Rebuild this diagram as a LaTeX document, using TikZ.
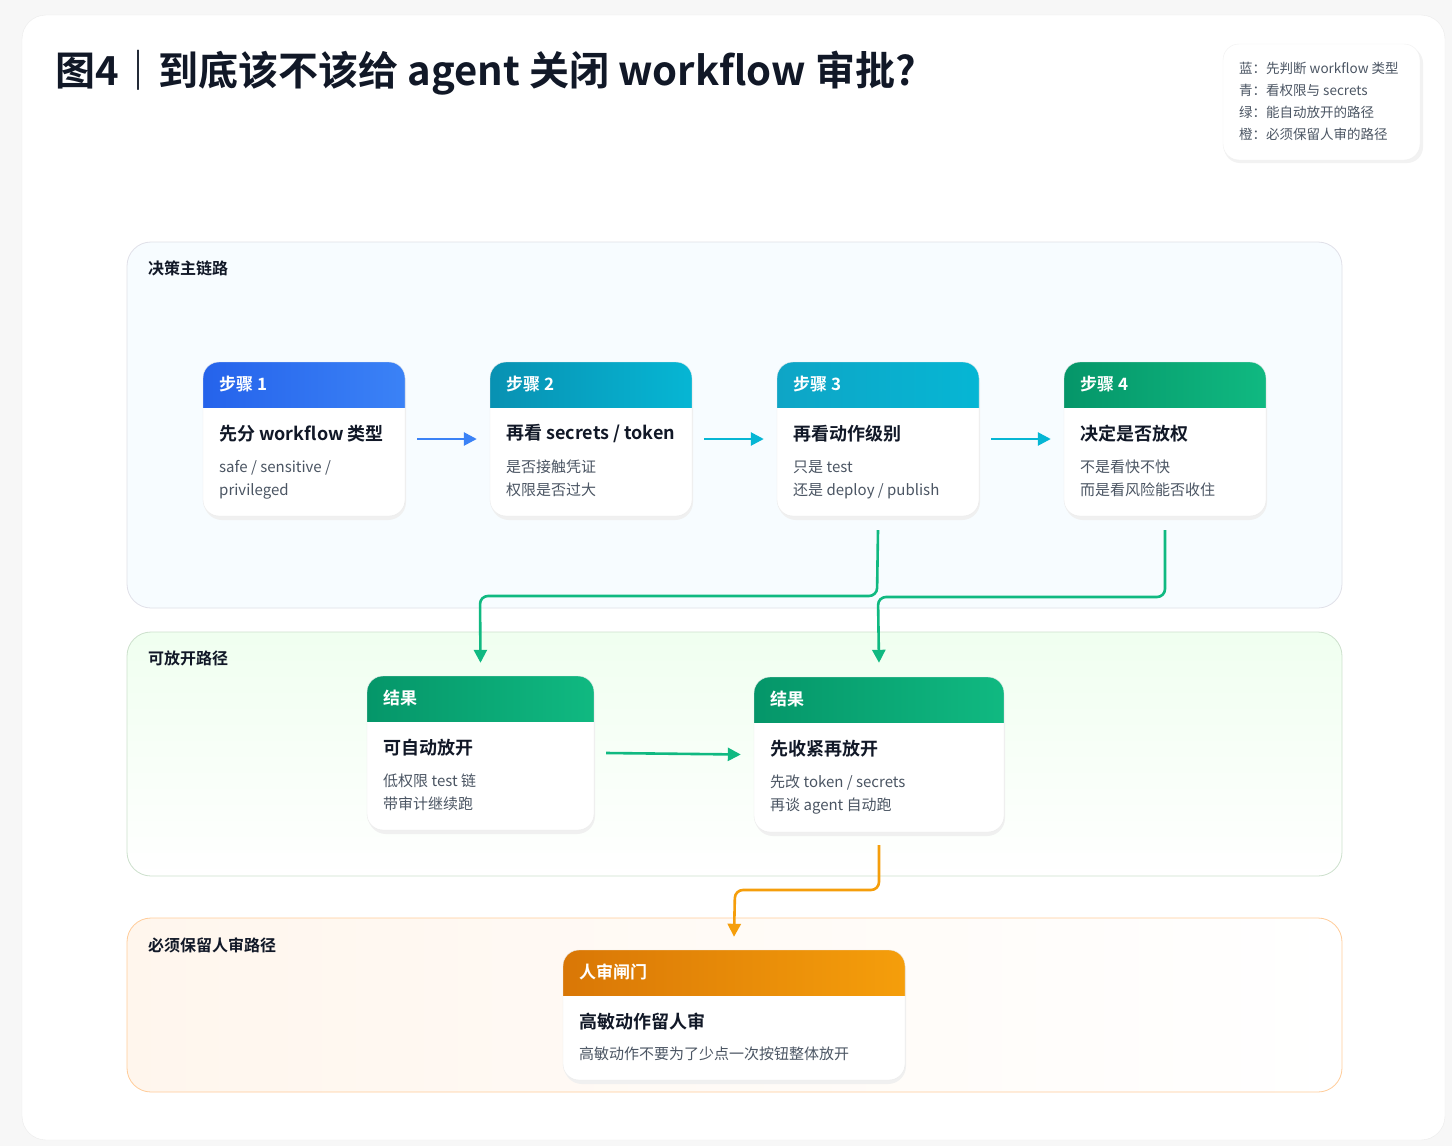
\documentclass[tikz,border=0pt]{standalone}
\usepackage{fontspec}
\setmainfont{Noto Sans CJK SC}[BoldFont={Noto Sans CJK SC Bold}]
\usetikzlibrary{arrows.meta}
\definecolor{ink}{HTML}{111827}
\definecolor{gray}{HTML}{4B5563}
\definecolor{bA}{HTML}{2563EB}\definecolor{bB}{HTML}{3B82F6}
\definecolor{tA}{HTML}{0891B2}\definecolor{tB}{HTML}{06B6D4}
\definecolor{cA}{HTML}{0EA5C6}\definecolor{cB}{HTML}{06B6D4}
\definecolor{gA}{HTML}{059669}\definecolor{gB}{HTML}{10B981}
\definecolor{oA}{HTML}{D97706}\definecolor{oB}{HTML}{F59E0B}
\tikzset{
 arr/.style={line width=2.6pt, draw=#1, -{Triangle[length=13pt,width=13pt]}, rounded corners=8pt},
 plab/.style={anchor=west, inner sep=0, font=\bfseries\fontsize{16}{18}\selectfont, text=ink},
}
\newcommand{\card}[9]{% name x1 y1 x2 y2 colA colB header title
  \fill[black!6, rounded corners=18pt] ({#2+1},{#3+3}) rectangle ({#4+1},{#5+4});
  \begin{scope}
  \clip[rounded corners=16pt] (#2,#3) rectangle (#4,#5);
  \fill[white] (#2,#3) rectangle (#4,#5);
  \shade[left color=#6, right color=#7] (#2,#3) rectangle ({#4},{#3+45});
  \end{scope}
  \draw[black!8, rounded corners=16pt] (#2,#3) rectangle (#4,#5);
  \node[inner sep=0, minimum width={#4-#2}, minimum height={#5-#3}] (#1) at ({(#2+#4)/2},{(#3+#5)/2}) {};
  \node[anchor=west, inner sep=0, text=white, font=\bfseries\fontsize{17}{20}\selectfont] at ({#2+16},{#3+22}) {#8};
  \node[anchor=west, inner sep=0, text=ink, font=\bfseries\fontsize{18}{20}\selectfont] at ({#2+16},{#3+72}) {#9};
}
\newcommand{\body}[4]{\node[anchor=north west, inner sep=0, text=gray, align=left, font=\fontsize{15}{23}\selectfont] at ({#1+16},{#2+98}) {#3\\#4};}
\begin{document}
\begin{tikzpicture}[x=1pt,y=-1pt]
\useasboundingbox (0,0) rectangle (1452,1146);
\fill[black!3] (0,0) rectangle (1452,1146);
\fill[white, draw=black!8, rounded corners=24pt] (22,15) rectangle (1445,1140);
\node[anchor=west, inner sep=0, text=ink, font=\bfseries\fontsize{40}{44}\selectfont] (title) at (55,73) {图4｜到底该不该给 agent 关闭 workflow 审批?};
% legend
\fill[black!5, rounded corners=16pt] (1224,47) rectangle (1423,163);
\fill[white, draw=black!6, rounded corners=16pt] (1223,44) rectangle (1420,160);
\node[anchor=north west, inner sep=0, align=left, text=gray, font=\fontsize{13.5}{22}\selectfont] (legend) at (1239,62) {蓝：先判断 workflow 类型\\青：看权限与 secrets\\绿：能自动放开的路径\\橙：必须保留人审的路径};
% panels
\fill[blue!40!cyan!3, draw=blue!25!black!12, rounded corners=24pt, line width=0.8pt] (127,242) rectangle (1342,608);
\shade[top color=green!6, bottom color=white, rounded corners=24pt] (127,632) rectangle (1342,876);
\draw[green!40!black!20, rounded corners=24pt, line width=0.8pt] (127,632) rectangle (1342,876);
\shade[left color=orange!7, right color=white, rounded corners=24pt] (127,918) rectangle (1342,1092);
\draw[orange!40, rounded corners=24pt, line width=0.8pt] (127,918) rectangle (1342,1092);
\node[plab] at (148,268) {决策主链路};
\node[plab] at (148,658) {可放开路径};
\node[plab] at (148,945) {必须保留人审路径};
% cards
\card{s1}{203}{362}{405}{516}{bA}{bB}{步骤 1}{先分 workflow 类型}\body{203}{362}{safe / sensitive /}{privileged}
\card{s2}{490}{362}{692}{516}{tA}{tB}{步骤 2}{再看 secrets / token}\body{490}{362}{是否接触凭证}{权限是否过大}
\card{s3}{777}{362}{979}{516}{cA}{cB}{步骤 3}{再看动作级别}\body{777}{362}{只是 test}{还是 deploy / publish}
\card{s4}{1064}{362}{1266}{516}{gA}{gB}{步骤 4}{决定是否放权}\body{1064}{362}{不是看快不快}{而是看风险能否收住}
\card{r1}{367}{676}{594}{830}{gA}{gB}{结果}{可自动放开}\body{367}{676}{低权限 test 链}{带审计继续跑}
\card{r2}{754}{677}{1004}{832}{gA}{gB}{结果}{先收紧再放开}\body{754}{677}{先改 token / secrets}{再谈 agent 自动跑}
\card{h}{563}{950}{905}{1080}{oA}{oB}{人审闸门}{高敏动作留人审}
\node[anchor=west, inner sep=0, text=gray, font=\fontsize{15}{18}\selectfont] at (579,1054) {高敏动作不要为了少点一次按钮整体放开};
% connectors
\draw[arr=bB] ([xshift=12pt]s1.east) -- ([xshift=-13pt]s2.west);
\draw[arr=tB] ([xshift=12pt]s2.east) -- ([xshift=-13pt]s3.west);
\draw[arr=tB] ([xshift=12pt]s3.east) -- ([xshift=-13pt]s4.west);
\draw[arr=gB] ([yshift=-14pt]s3.south) -- (877,596) -- (480,596) -- ([yshift=13pt]r1.north);
\draw[arr=gB] ([yshift=-14pt]s4.south) -- (1165,597) -- (878,597) -- ([yshift=14pt]r2.north);
\draw[arr=gB] ([xshift=12pt]r1.east) -- ([xshift=-13pt]r2.west);
\draw[arr=oB] ([yshift=-13pt]r2.south) -- (879,890) -- (735,890) -- ([yshift=13pt]h.north);
\end{tikzpicture}
\end{document}
